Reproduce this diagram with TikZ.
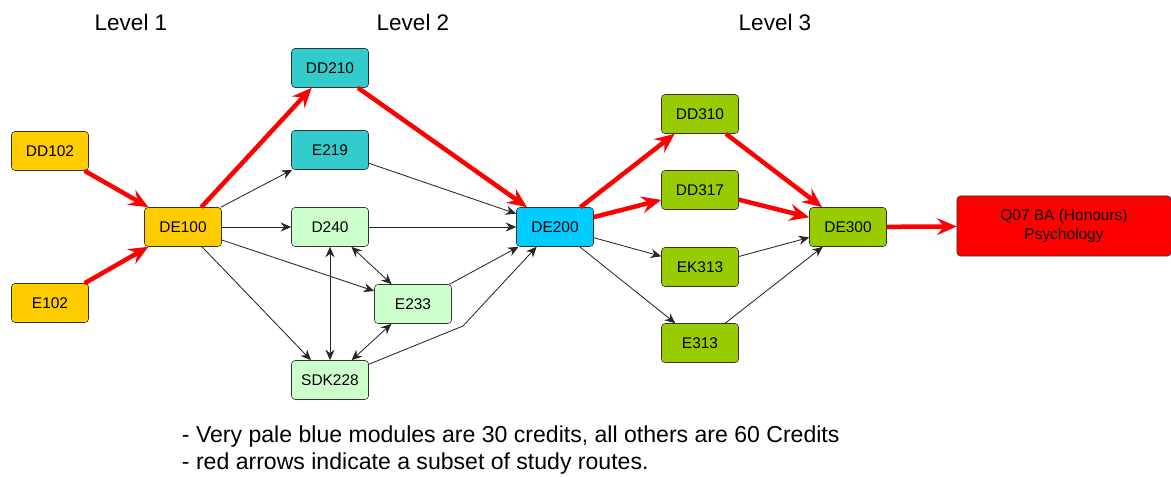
\documentclass[tikz,border=0pt]{standalone}
\usepackage{fontspec}
\setmainfont{Liberation Sans}
\usetikzlibrary{arrows.meta}

\definecolor{levelone}{HTML}{FFCC00}
\definecolor{leveltwo}{HTML}{33CCCC}
\definecolor{palegreen}{HTML}{CCFFCC}
\definecolor{hubblue}{HTML}{00CCFF}
\definecolor{levelthree}{HTML}{99CC00}
\definecolor{degreered}{HTML}{FF0000}

\begin{document}
\begin{tikzpicture}[x=0.025cm, y=-0.025cm,
    module/.style={draw=black!80, rounded corners=2.5pt, minimum width=1.925cm,
                   minimum height=0.975cm, inner sep=1pt, font=\fontsize{11}{13}\selectfont},
    route/.style={draw=degreered, line width=3.2pt, -{Stealth[length=14pt, width=12pt, inset=5pt]}},
    link/.style={draw=black!85, line width=0.6pt, -{Stealth[length=7.5pt, width=6.5pt, inset=2.5pt]}},
    twoway/.style={draw=black!85, line width=0.6pt, {Stealth[length=7.5pt, width=6.5pt, inset=2.5pt]}-{Stealth[length=7.5pt, width=6.5pt, inset=2.5pt]}},
    heading/.style={font=\fontsize{16}{19}\selectfont},
    note/.style={anchor=west, font=\fontsize{16.4}{19}\selectfont}]

    \useasboundingbox (0,0) rectangle (1171,477);

    % Niveles
    \node[heading] (lvlone)   at (131,22) {Level 1};
    \node[heading] (lvltwo)   at (413,22) {Level 2};
    \node[heading] (lvlthree) at (775,22) {Level 3};

    % Nivel 1
    \node[module, fill=levelone] (DD102) at (50,151) {DD102};
    \node[module, fill=levelone] (E102)  at (50,303) {E102};
    \node[module, fill=levelone] (DE100) at (183,227) {DE100};

    % Nivel 2
    \node[module, fill=leveltwo]  (DD210)  at (330,68)  {DD210};
    \node[module, fill=leveltwo]  (E219)   at (330,150) {E219};
    \node[module, fill=palegreen] (D240)   at (330,227) {D240};
    \node[module, fill=palegreen] (E233)   at (413,304) {E233};
    \node[module, fill=palegreen] (SDK228) at (330,380) {SDK228};
    \node[module, fill=hubblue]   (DE200)  at (555,227) {DE200};

    % Nivel 3
    \node[module, fill=levelthree] (DD310) at (700,114) {DD310};
    \node[module, fill=levelthree] (DD317) at (700,190) {DD317};
    \node[module, fill=levelthree] (EK313) at (700,267) {EK313};
    \node[module, fill=levelthree] (E313)  at (700,343) {E313};
    \node[module, fill=levelthree] (DE300) at (848,227) {DE300};

    \node[module, fill=degreered, minimum width=5.35cm, minimum height=1.5cm,
          align=center] (Q07) at (1064,226) {Q07 BA (Honours)\\Psychology};

    \coordinate (sdkbend) at (463,326);

    % Rutas rojas
    \draw[route] (DD102) -- (DE100);
    \draw[route] (E102)  -- (DE100);
    \draw[route] (DE100) -- (DD210);
    \draw[route] (DD210) -- (DE200);
    \draw[route] (DE200) -- (DD310);
    \draw[route] (DE200) -- (DD317);
    \draw[route] (DD310) -- (DE300);
    \draw[route] (DD317) -- (DE300);
    \draw[route] (DE300) -- (Q07);

    % Otras conexiones
    \draw[link] (DE100) -- (E219);
    \draw[link] (DE100) -- (D240);
    \draw[link] (DE100) -- (E233);
    \draw[link] (DE100) -- (SDK228);
    \draw[link] (E219)  -- (DE200);
    \draw[link] (D240)  -- (DE200);
    \draw[link] (E233)  -- (DE200);
    \draw[link] (SDK228) -- (sdkbend) -- (DE200);
    \draw[twoway] (D240) -- (E233);
    \draw[twoway] (D240) -- (SDK228);
    \draw[twoway] (E233) -- (SDK228);
    \draw[link] (DE200) -- (EK313);
    \draw[link] (DE200) -- (E313);
    \draw[link] (EK313) -- (DE300);
    \draw[link] (E313)  -- (DE300);

    % Notas
    \node[note] (noteone) at (177,437)
        {- Very pale blue modules are 30 credits, all others are 60 Credits};
    \node[note] (notetwo) at (177,464)
        {- red arrows indicate a subset of study routes.};

\end{tikzpicture}
\end{document}
